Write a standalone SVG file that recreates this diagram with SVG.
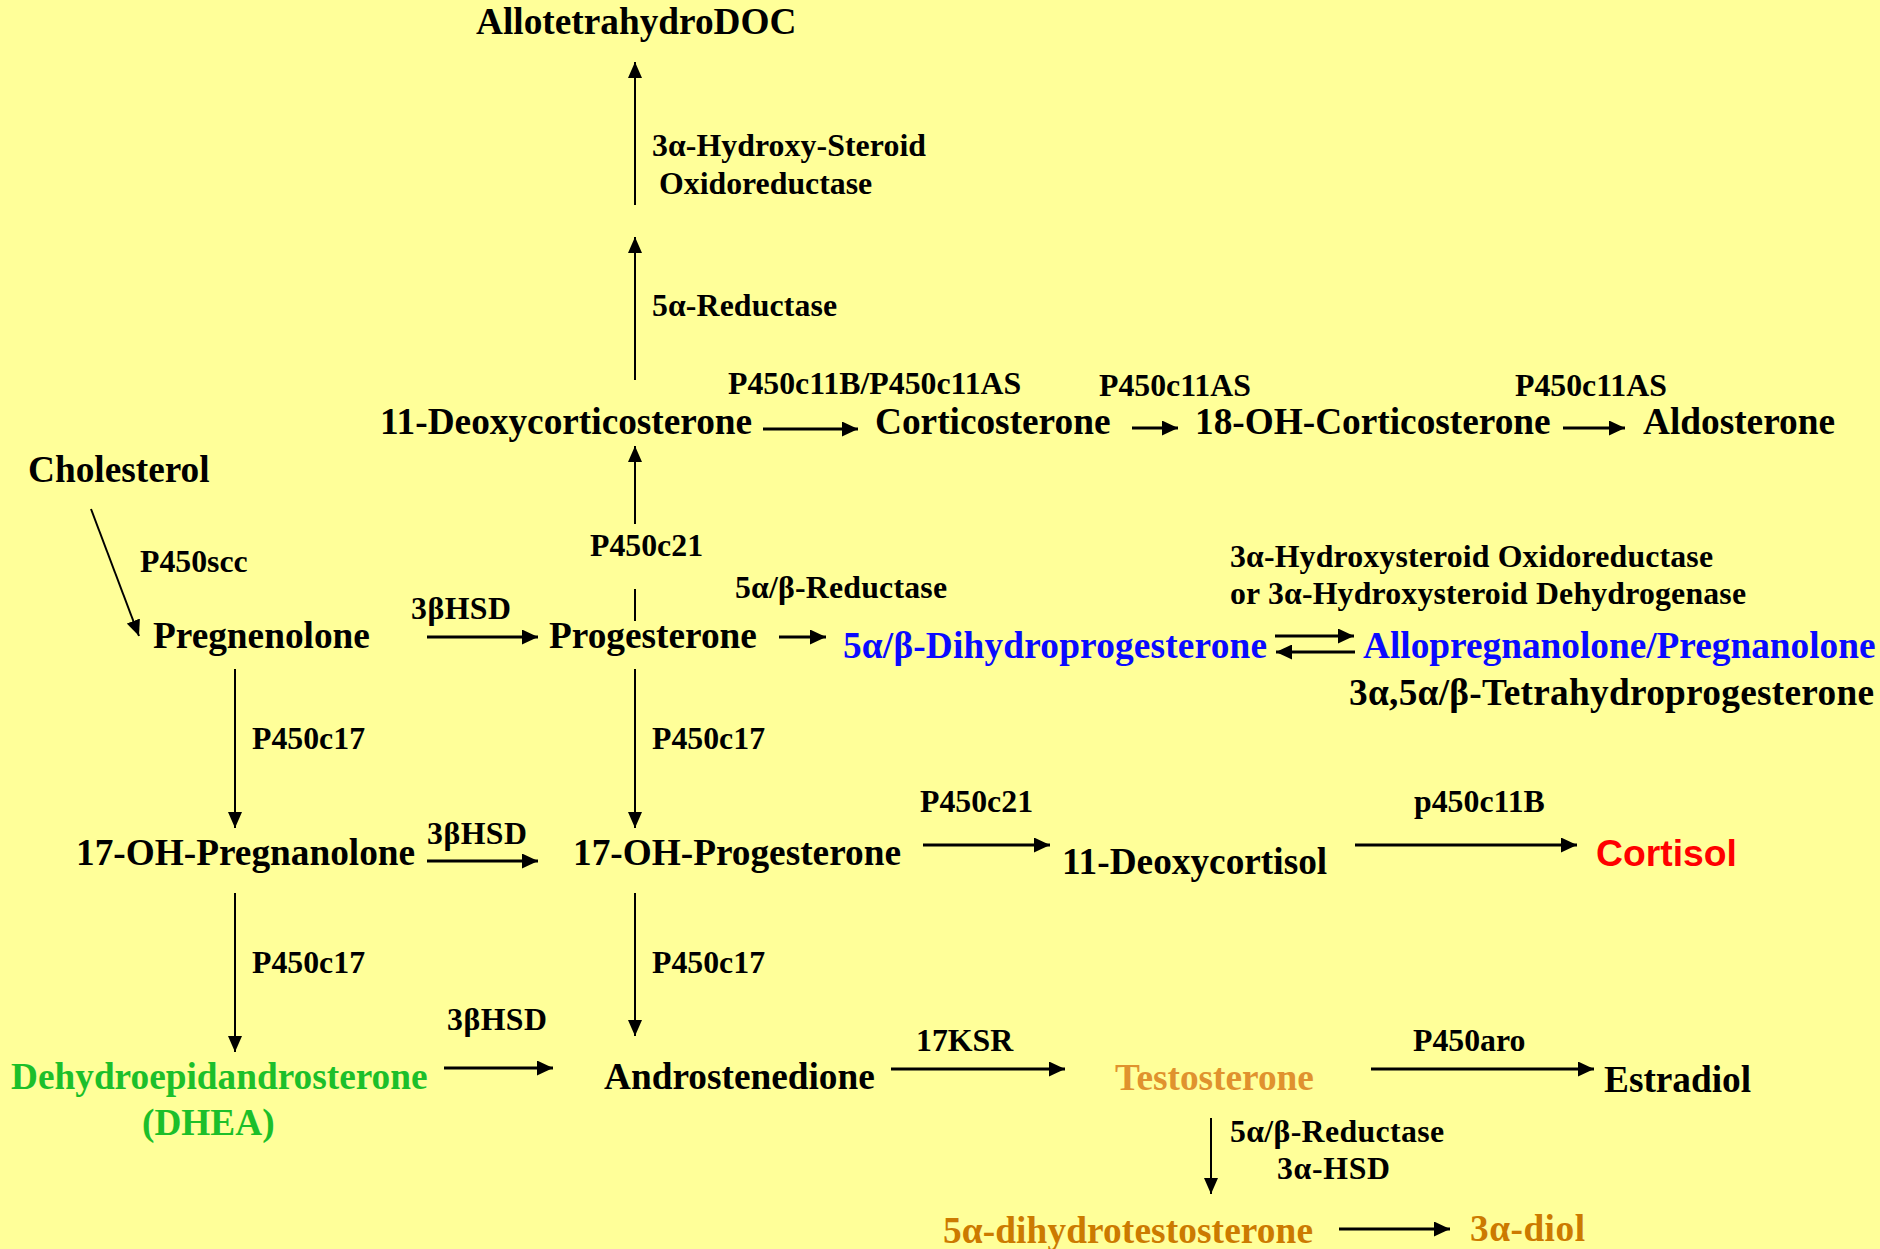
<svg xmlns="http://www.w3.org/2000/svg" width="1880" height="1249" viewBox="0 0 1880 1249">
<defs>
<style>
.n{font-family:"Liberation Serif","Times New Roman",serif;font-weight:bold;font-size:37.3px;fill:#000}
.l{font-family:"Liberation Serif","Times New Roman",serif;font-weight:bold;font-size:31.8px;fill:#000}
.blue{fill:#0a0aff}
.green{fill:#1cbf2a}
.orange{fill:#e0922e}
.dorange{fill:#cc7a00}
.red{font-family:"Liberation Sans",Arial,sans-serif;fill:#ff0000}
.h{stroke:#000;stroke-width:3;fill:none}
.v{stroke:#000;stroke-width:2;fill:none}
</style>
<marker id="ah" markerUnits="userSpaceOnUse" markerWidth="17" markerHeight="15" refX="16" refY="7.5" orient="auto" viewBox="0 0 17 15">
<path d="M0,0 L16,7.5 L0,15 z" fill="#000"/>
</marker>
<marker id="av" markerUnits="userSpaceOnUse" markerWidth="17" markerHeight="14" refX="16" refY="7" orient="auto" viewBox="0 0 17 14">
<path d="M0,0 L16,7 L0,14 z" fill="#000"/>
</marker>
</defs>
<rect width="1880" height="1249" fill="#ffff99"/>

<g id="connectors">
<line class="v" x1="635" y1="205" x2="635" y2="62" marker-end="url(#av)"/>
<line class="v" x1="635" y1="380" x2="635" y2="237" marker-end="url(#av)"/>
<line class="v" x1="635" y1="524" x2="635" y2="446" marker-end="url(#av)"/>
<line class="v" x1="635" y1="621" x2="635" y2="589"/>
<line class="v" x1="235" y1="669" x2="235" y2="828" marker-end="url(#av)"/>
<line class="v" x1="635" y1="669" x2="635" y2="828" marker-end="url(#av)"/>
<line class="v" x1="235" y1="893" x2="235" y2="1052" marker-end="url(#av)"/>
<line class="v" x1="635" y1="893" x2="635" y2="1036" marker-end="url(#av)"/>
<line class="v" x1="1211" y1="1118" x2="1211" y2="1194" marker-end="url(#av)"/>
<line class="v" x1="91" y1="509" x2="139" y2="636" marker-end="url(#av)"/>
<line class="h" x1="763" y1="429" x2="858" y2="429" marker-end="url(#ah)"/>
<line class="h" x1="1132" y1="428" x2="1178" y2="428" marker-end="url(#ah)"/>
<line class="h" x1="1563" y1="428" x2="1625" y2="428" marker-end="url(#ah)"/>
<line class="h" x1="427" y1="637" x2="538" y2="637" marker-end="url(#ah)"/>
<line class="h" x1="779" y1="637" x2="826" y2="637" marker-end="url(#ah)"/>
<line class="h" x1="1275" y1="636" x2="1354" y2="636" marker-end="url(#ah)"/>
<line class="h" x1="1355" y1="652" x2="1276" y2="652" marker-end="url(#ah)"/>
<line class="h" x1="427" y1="861" x2="538" y2="861" marker-end="url(#ah)"/>
<line class="h" x1="923" y1="845" x2="1050" y2="845" marker-end="url(#ah)"/>
<line class="h" x1="1355" y1="845" x2="1577" y2="845" marker-end="url(#ah)"/>
<line class="h" x1="444" y1="1068" x2="553" y2="1068" marker-end="url(#ah)"/>
<line class="h" x1="891" y1="1069" x2="1065" y2="1069" marker-end="url(#ah)"/>
<line class="h" x1="1371" y1="1069" x2="1594" y2="1069" marker-end="url(#ah)"/>
<line class="h" x1="1339" y1="1229" x2="1450" y2="1229" marker-end="url(#ah)"/>
</g>

<g id="labels">
<text class="l" x="652" y="156" textLength="274">3α-Hydroxy-Steroid</text>
<text class="l" x="659" y="194">Oxidoreductase</text>
<text class="l" x="652" y="316" textLength="185">5α-Reductase</text>
<text class="l" x="728" y="394">P450c11B/P450c11AS</text>
<text class="l" x="1099" y="396">P450c11AS</text>
<text class="l" x="1515" y="396">P450c11AS</text>
<text class="l" x="140" y="572">P450scc</text>
<text class="l" x="590" y="556">P450c21</text>
<text class="l" x="411" y="619" textLength="100">3βHSD</text>
<text class="l" x="735" y="598" textLength="212">5α/β-Reductase</text>
<text class="l" x="1230" y="567" textLength="483">3α-Hydroxysteroid Oxidoreductase</text>
<text class="l" x="1230" y="604" textLength="516">or 3α-Hydroxysteroid Dehydrogenase</text>
<text class="l" x="252" y="749">P450c17</text>
<text class="l" x="652" y="749">P450c17</text>
<text class="l" x="427" y="844" textLength="100">3βHSD</text>
<text class="l" x="920" y="812">P450c21</text>
<text class="l" x="1414" y="812">p450c11B</text>
<text class="l" x="252" y="973">P450c17</text>
<text class="l" x="652" y="973">P450c17</text>
<text class="l" x="447" y="1030" textLength="100">3βHSD</text>
<text class="l" x="916" y="1051">17KSR</text>
<text class="l" x="1413" y="1051">P450aro</text>
<text class="l" x="1230" y="1142" textLength="214">5α/β-Reductase</text>
<text class="l" x="1277" y="1179" textLength="113">3α-HSD</text>
</g>

<g id="node-allotetrahydrodoc"><text class="n" x="476" y="34">AllotetrahydroDOC</text></g>
<g id="node-11-deoxycorticosterone"><text class="n" x="380" y="434">11-Deoxycorticosterone</text></g>
<g id="node-corticosterone"><text class="n" x="875" y="434">Corticosterone</text></g>
<g id="node-18-oh-corticosterone"><text class="n" x="1195" y="434">18-OH-Corticosterone</text></g>
<g id="node-aldosterone"><text class="n" x="1643" y="434">Aldosterone</text></g>
<g id="node-cholesterol"><text class="n" x="28" y="482">Cholesterol</text></g>
<g id="node-pregnenolone"><text class="n" x="153" y="648">Pregnenolone</text></g>
<g id="node-progesterone"><text class="n" x="549" y="648">Progesterone</text></g>
<g id="node-dihydroprogesterone"><text class="n blue" x="843" y="658" textLength="424">5α/β-Dihydroprogesterone</text></g>
<g id="node-allopregnanolone"><text class="n blue" x="1363" y="658">Allopregnanolone/Pregnanolone</text><text class="n" x="1349" y="705" textLength="525">3α,5α/β-Tetrahydroprogesterone</text></g>
<g id="node-17-oh-pregnanolone"><text class="n" x="76" y="865">17-OH-Pregnanolone</text></g>
<g id="node-17-oh-progesterone"><text class="n" x="573" y="865">17-OH-Progesterone</text></g>
<g id="node-11-deoxycortisol"><text class="n" x="1062" y="874">11-Deoxycortisol</text></g>
<g id="node-cortisol"><text class="n red" x="1596" y="866">Cortisol</text></g>
<g id="node-dhea"><text class="n green" x="11" y="1089">Dehydroepidandrosterone</text><text class="n green" x="142" y="1135">(DHEA)</text></g>
<g id="node-androstenedione"><text class="n" x="604" y="1089">Androstenedione</text></g>
<g id="node-testosterone"><text class="n orange" x="1115" y="1090">Testosterone</text></g>
<g id="node-estradiol"><text class="n" x="1604" y="1092">Estradiol</text></g>
<g id="node-dht"><text class="n dorange" x="943" y="1243" textLength="370">5α-dihydrotestosterone</text></g>
<g id="node-3a-diol"><text class="n dorange" x="1470" y="1241" textLength="115">3α-diol</text></g>
</svg>
